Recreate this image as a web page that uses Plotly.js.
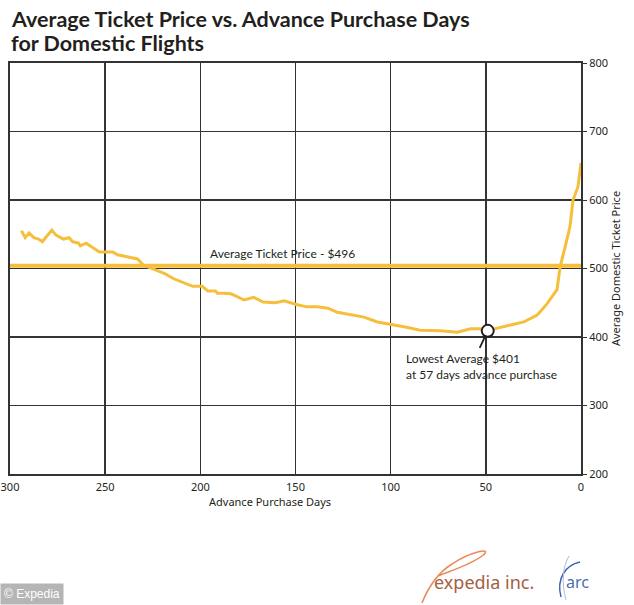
<!DOCTYPE html>
<html>
<head>
<meta charset="utf-8">
<script src="https://cdn.plot.ly/plotly-3.0.1.min.js"></script>
<style>html,body{margin:0;padding:0;background:#fff;}#chart{width:634px;height:605px;}</style>
</head>
<body>
<div id="chart"></div>
<script>
// ---- data ----
const days = [294, 292, 290, 287.5, 285, 283, 281, 278, 276, 272, 269, 267, 264, 263, 260, 257, 253, 250, 246, 243.5, 238, 233, 230, 224.5, 219, 214, 209, 204, 199, 196, 192, 191, 188, 184, 181.5, 177, 172, 167, 160.5, 156, 149, 144, 138.5, 133, 128, 121, 114, 107, 100, 93, 84.5, 74, 65, 58, 53, 49, 44, 37, 30, 23, 18, 12.6, 11, 8.4, 5.8, 4.2, 1.6, 0];
const prices = [555, 545, 552, 545, 543, 539, 546, 556, 549, 543, 545, 539, 537, 533, 537, 531, 524, 524, 524, 520, 517, 514, 505, 499, 493, 485, 479, 474, 474, 467, 467, 464, 464, 463, 460, 454, 458, 451, 450, 453, 447, 444, 444, 442, 436, 433, 429, 422, 419, 415, 410, 409, 407, 412, 412, 409, 413, 418, 422, 432, 448, 469, 502, 531, 561, 600, 619, 654];
const avgPrice = 504;           // drawn position of the average line
const avgLabel = "Average Ticket Price - $496";
const lowDay = 49;              // drawn position of the lowest marker
const lowPrice = 409;
const lowLabel = "Lowest Average $401<br>at 57 days advance purchase";
const xRange = [300, 0];
const yRange = [200, 800];
const xTicks = [300, 250, 200, 150, 100, 50, 0];
const yTicks = [200, 300, 400, 500, 600, 700, 800];
const titleLines = ['Average Ticket Price vs. Advance Purchase Days', 'for Domestic Flights'];

// ---- helpers for decorations outside the plot area (pixel -> paper) ----
const L = 10, R = 581, T = 63, B = 474;
const px = x => (x - L) / (R - L);
const py = y => (B - y) / (B - T);
const P = (x, y) => px(x).toFixed(4) + ',' + py(y).toFixed(4);

const gold = '#f5bf3c';
const ink = '#231f20';

const traces = [
  {x: xRange, y: [avgPrice, avgPrice], mode: 'lines', line: {color: gold, width: 4}, hoverinfo: 'skip'},
  {x: days, y: prices, mode: 'lines', line: {color: gold, width: 3}, hoverinfo: 'skip'},
  {x: [lowDay], y: [lowPrice], mode: 'markers',
   marker: {size: 12, color: '#ffffff', line: {color: ink, width: 2}}, hoverinfo: 'skip'}
];

const swirl = 'M ' + P(422, 603) + ' C ' + P(428, 588) + ' ' + P(436, 574) + ' ' + P(452, 564) +
  ' C ' + P(470, 552) + ' ' + P(495, 546) + ' ' + P(482, 556) +
  ' C ' + P(470, 565) + ' ' + P(450, 571) + ' ' + P(438, 576);
const arcPath = 'M ' + P(580, 562) + ' C ' + P(566, 565) + ' ' + P(556, 578) + ' ' + P(561, 597);
const arcPath2 = 'M ' + P(569, 556) + ' C ' + P(563, 566) + ' ' + P(561, 582) + ' ' + P(566, 600);

const titleFont = {family: 'Lato, "Open Sans", sans-serif', size: 21.5, weight: 700, color: ink};

const layout = {
  width: 634, height: 605,
  margin: {l: L, r: 634 - R, t: T, b: 605 - B, pad: 0},
  paper_bgcolor: '#ffffff', plot_bgcolor: '#ffffff',
  showlegend: false,
  font: {family: '"Noto Sans", "Open Sans", sans-serif', color: ink},
  xaxis: {
    range: xRange, tickvals: xTicks, ticktext: xTicks.map(String),
    showgrid: true, gridcolor: '#333333', gridwidth: 1.5,
    showline: true, linecolor: '#333333', linewidth: 2, mirror: true,
    zeroline: false, ticks: '', ticklabelstandoff: 2,
    tickfont: {size: 11, color: ink, family: '"Noto Sans", sans-serif'}
  },
  yaxis: {
    range: yRange, tickvals: yTicks, ticktext: yTicks.map(String), side: 'right',
    showgrid: true, gridcolor: '#333333', gridwidth: 1.5,
    showline: true, linecolor: '#333333', linewidth: 2, mirror: true,
    zeroline: false, ticks: 'outside', ticklen: 4, tickcolor: '#333333',
    tickfont: {size: 11, color: ink, family: '"Noto Sans", sans-serif'},
    title: {text: 'Average Domestic Ticket Price', standoff: 4,
            font: {size: 11, color: ink, family: '"Noto Sans", sans-serif'}}
  },
  annotations: [
    {xref: 'paper', yref: 'paper', x: px(9), y: py(4), text: titleLines[0],
     showarrow: false, xanchor: 'left', yanchor: 'top', font: titleFont},
    {xref: 'paper', yref: 'paper', x: px(9), y: py(28), text: titleLines[1],
     showarrow: false, xanchor: 'left', yanchor: 'top', font: titleFont},
    {xref: 'paper', yref: 'paper', x: px(270), y: py(501), text: 'Advance Purchase Days',
     showarrow: false, xanchor: 'center', yanchor: 'middle',
     font: {size: 11, color: ink, family: '"Noto Sans", sans-serif'}},
    {x: 196, y: avgPrice, xref: 'x', yref: 'y', text: avgLabel, showarrow: false,
     xanchor: 'left', yanchor: 'bottom', yshift: 3,
     font: {size: 12, color: ink, family: 'Lato, sans-serif'}},
    {x: lowDay, y: lowPrice, xref: 'x', yref: 'y', text: lowLabel, showarrow: false,
     xanchor: 'left', yanchor: 'top', xshift: -84, yshift: -18, align: 'left',
     font: {size: 12, color: ink, family: 'Lato, sans-serif'}},
    {x: lowDay, y: lowPrice, xref: 'x', yref: 'y', text: ' ', showarrow: true,
     arrowhead: 0, arrowwidth: 1.8, arrowcolor: ink, ax: -9, ay: 19, standoff: 5,
     font: {size: 1}},
    {xref: 'paper', yref: 'paper', x: px(432), y: py(582), text: 'expedia inc.',
     showarrow: false, xanchor: 'left', yanchor: 'middle',
     font: {size: 18, color: '#a5603f', family: '"Noto Sans", sans-serif'}},
    {xref: 'paper', yref: 'paper', x: px(564), y: py(582), text: 'arc',
     showarrow: false, xanchor: 'left', yanchor: 'middle',
     font: {size: 16, color: '#4a6db5', family: '"Noto Sans", sans-serif'}},
    {xref: 'paper', yref: 'paper', x: px(0), y: py(605), text: '© Expedia',
     showarrow: false, xanchor: 'left', yanchor: 'bottom',
     bgcolor: '#b5b5b5', borderpad: 3,
     font: {size: 12, color: '#ffffff', family: '"Liberation Sans", Arial, sans-serif'}}
  ],
  shapes: [
    {type: 'path', xref: 'paper', yref: 'paper', path: swirl, line: {color: '#e8895a', width: 1.5}},
    {type: 'path', xref: 'paper', yref: 'paper', path: arcPath, line: {color: '#3d62ad', width: 1.5}},
    {type: 'path', xref: 'paper', yref: 'paper', path: arcPath2, line: {color: '#a8bde0', width: 1}}
  ]
};

Plotly.newPlot('chart', traces, layout, {displayModeBar: false, staticPlot: true});
</script>
</body>
</html>
